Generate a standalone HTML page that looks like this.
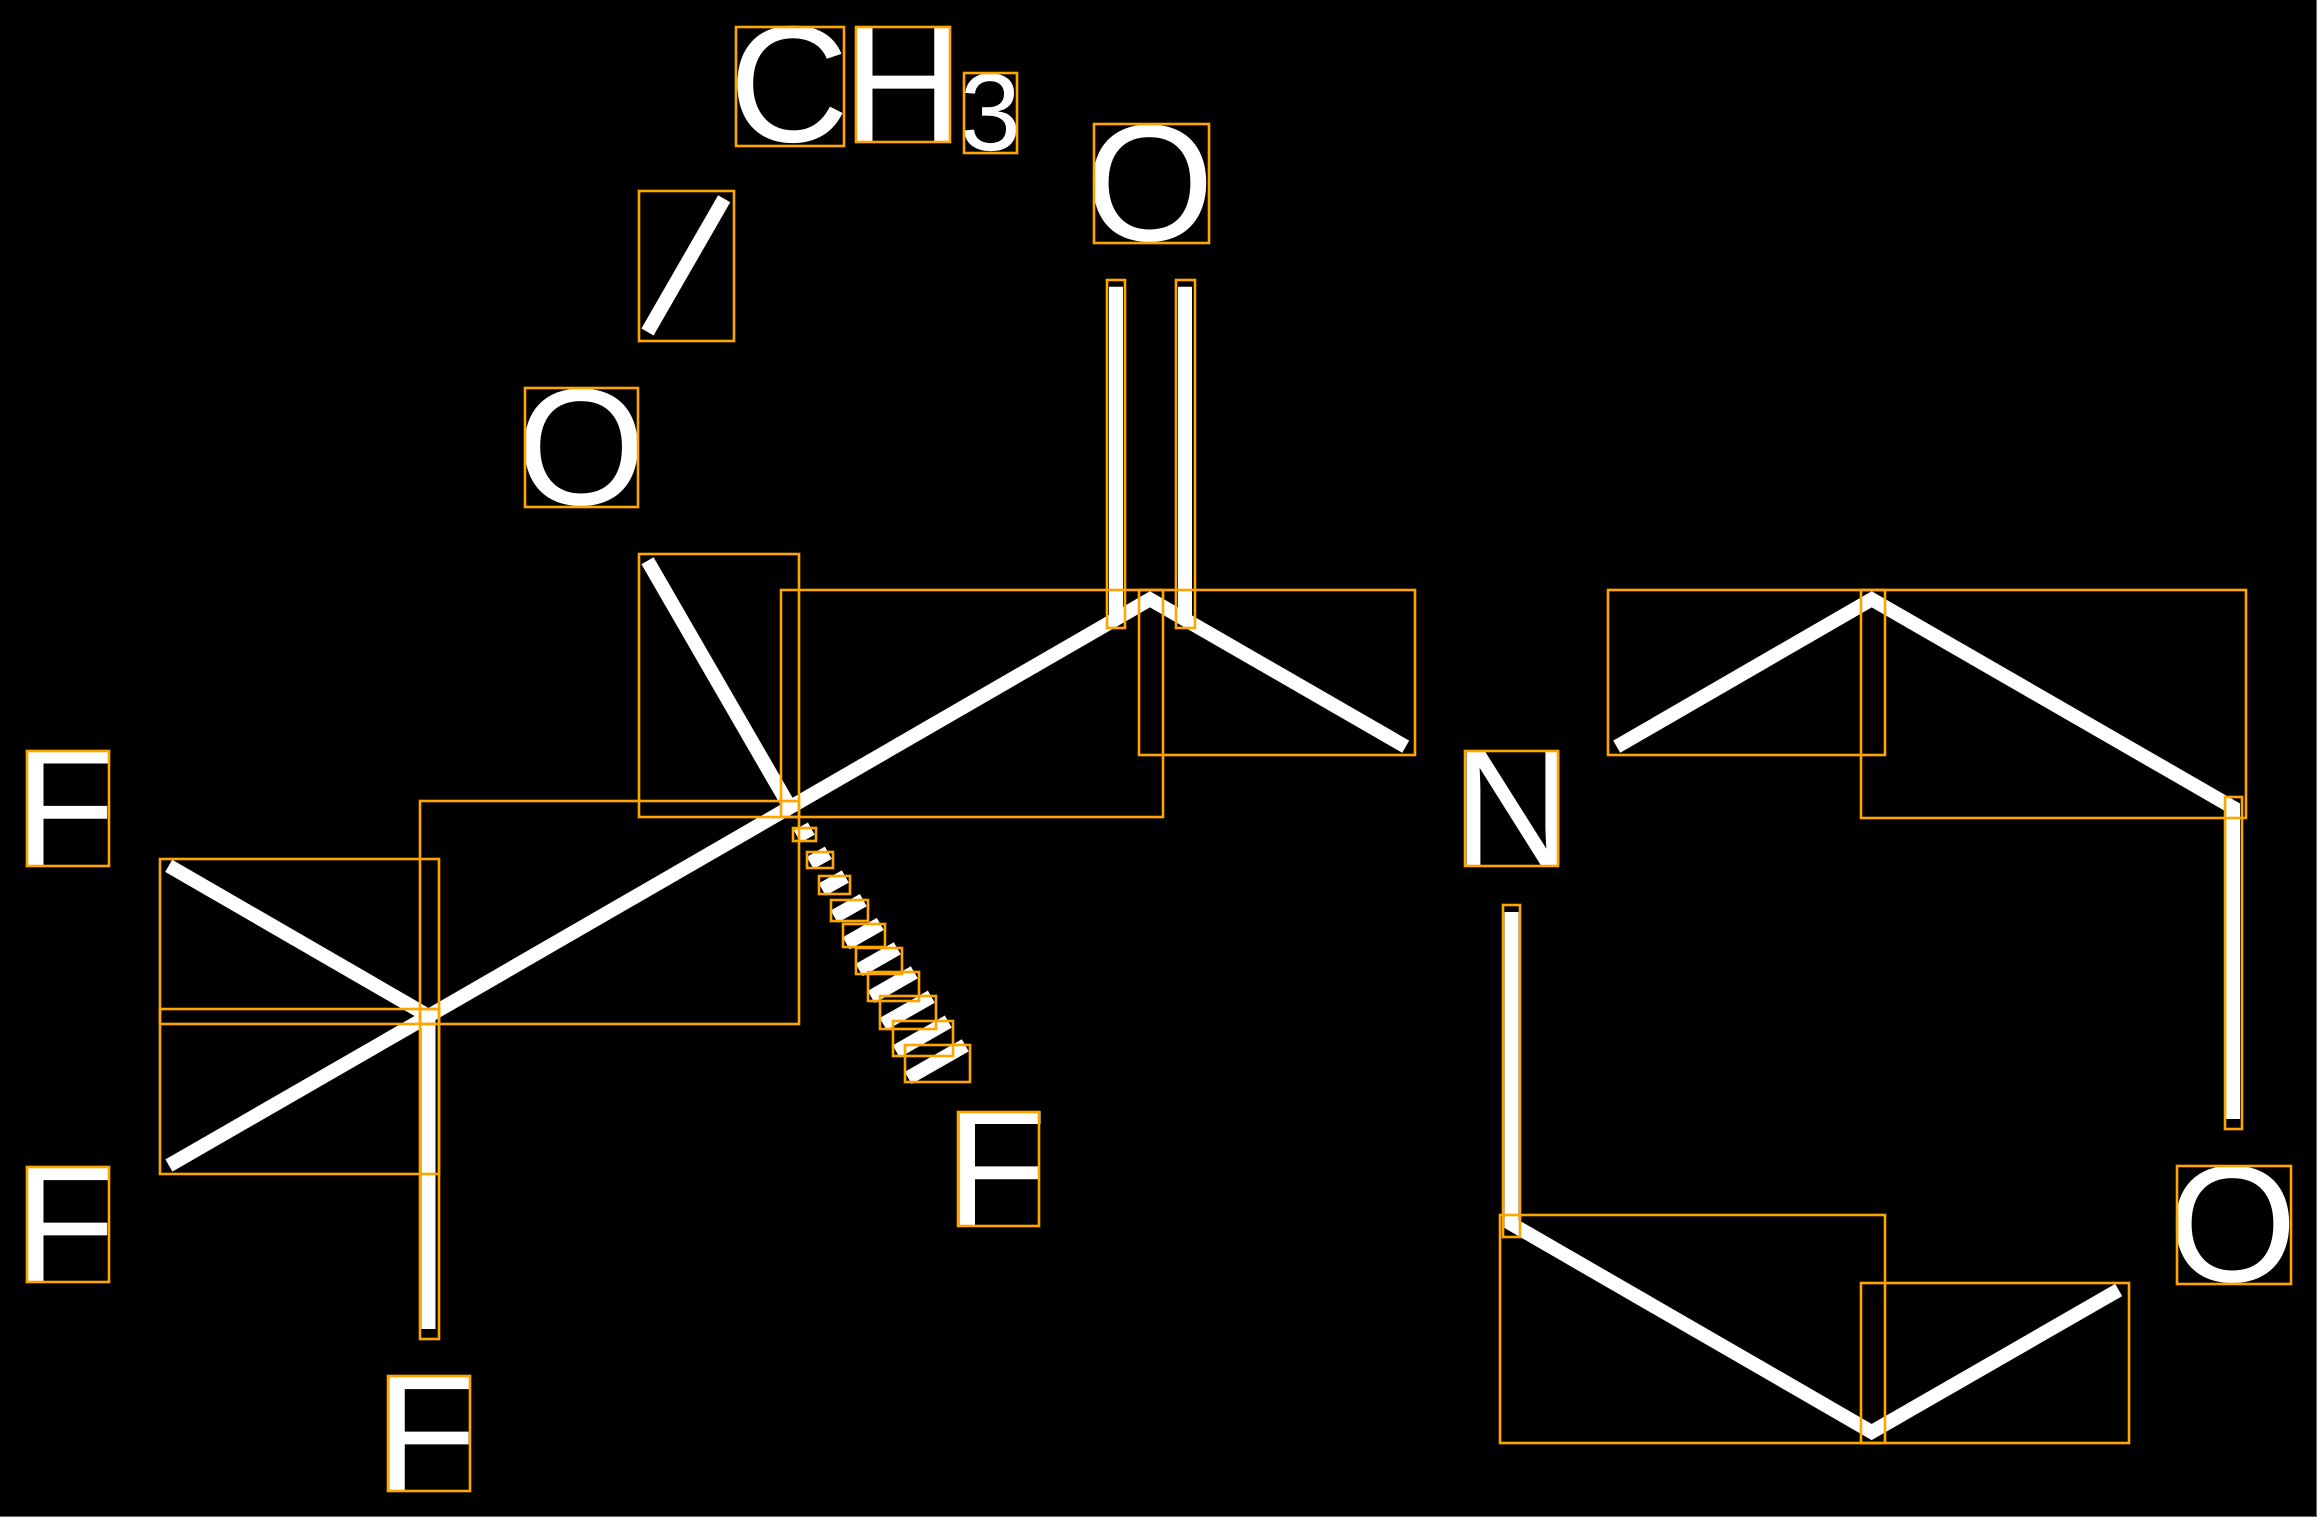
<!DOCTYPE html>
<html>
<head>
<meta charset="utf-8">
<title>Molecule</title>
<style>
html,body{margin:0;padding:0;background:#000;width:2317px;height:1517px;overflow:hidden}
svg{display:block}
text{font-family:"Liberation Sans",sans-serif;fill:#fff;font-size:166px;text-rendering:geometricPrecision}
.b{fill:none;stroke:#fff;stroke-width:14;stroke-linejoin:miter;stroke-miterlimit:10;stroke-linecap:butt}
.r rect{fill:none;stroke:#ffa500;stroke-width:2.6}
</style>
</head>
<body>
<svg width="2317" height="1517" viewBox="0 0 2317 1517" xmlns="http://www.w3.org/2000/svg">
<rect x="0" y="0" width="2317" height="1517" fill="#000"/>
<rect x="2316" y="0" width="1" height="1517" fill="#666"/>
<rect x="0" y="1516" width="2317" height="1" fill="#666"/>

<g class="b">
<polyline points="1405.7,746.7 1150,599.3 790,807.3 428.5,1016 168.7,865.8"/>
<line x1="168.9" y1="1165.5" x2="428.5" y2="1016"/>
<line x1="428.5" y1="1016" x2="428.5" y2="1329"/>
<line x1="647.5" y1="560.8" x2="790" y2="807.3"/>
<line x1="647.5" y1="332" x2="724.2" y2="198.7"/>
<line x1="1116" y1="286.7" x2="1116" y2="620"/>
<line x1="1185" y1="286.7" x2="1185" y2="620"/>
<polyline points="1616.7,746.7 1871.7,599.3 2233,807.5 2233,1119"/>
<polyline points="1511.5,912 1511.5,1224 1871.7,1432 2118.7,1290"/>
<line x1="797.2" y1="836.4" x2="811.3" y2="828.6"/>
<line x1="810.2" y1="862.95" x2="828.3" y2="852.75"/>
<line x1="822.2" y1="889.5" x2="845.3" y2="876.5"/>
<line x1="834.2" y1="916.6" x2="863.3" y2="900.1"/>
<line x1="846.2" y1="943.35" x2="880.3" y2="923.95"/>
<line x1="859.2" y1="970" x2="897.3" y2="948.3"/>
<line x1="871.2" y1="996.95" x2="914.3" y2="972.35"/>
<line x1="883.2" y1="1024.05" x2="931.3" y2="996.65"/>
<line x1="896.2" y1="1051.4" x2="948.3" y2="1021.6"/>
<line x1="908.2" y1="1077.95" x2="965.3" y2="1045.35"/>
</g>

<text x="729 843.4" y="141.5">CH</text>
<text x="959.7" y="150" style="font-size:110px">3</text>
<text x="1085" y="240.4">O</text>
<text x="516.6" y="504.4">O</text>
<text x="2168" y="1281.4">O</text>
<text x="1453" y="865">N</text>
<text x="14.4" y="865">F</text>
<text x="14.4" y="1281.7">F</text>
<text x="375.7" y="1490.7">F</text>
<text x="945.9" y="1225.5">F</text>

<g class="r">
<rect x="736" y="27" width="108" height="119"/>
<rect x="856" y="27" width="94" height="115"/>
<rect x="964" y="73" width="53" height="80"/>
<rect x="1094" y="124" width="115" height="119"/>
<rect x="639" y="191" width="95" height="150"/>
<rect x="525" y="388" width="113" height="119"/>
<rect x="1107" y="280" width="18" height="348"/>
<rect x="1176" y="280" width="19" height="348"/>
<rect x="639" y="554" width="160" height="263"/>
<rect x="781" y="590" width="382" height="227"/>
<rect x="1139" y="590" width="276" height="165"/>
<rect x="420" y="801" width="379" height="223"/>
<rect x="160" y="859" width="279" height="165"/>
<rect x="160" y="1009" width="279" height="165"/>
<rect x="420" y="1009" width="19" height="330"/>
<rect x="27" y="751" width="82" height="115"/>
<rect x="27" y="1167" width="82" height="115"/>
<rect x="388" y="1376" width="82" height="115"/>
<rect x="958" y="1112" width="81" height="114"/>
<rect x="1465" y="751" width="93" height="115"/>
<rect x="1608" y="590" width="277" height="165"/>
<rect x="1861" y="590" width="385" height="228"/>
<rect x="2225" y="797" width="17" height="332"/>
<rect x="2177" y="1166" width="114" height="118"/>
<rect x="1503" y="905" width="17" height="332"/>
<rect x="1500" y="1215" width="385" height="228"/>
<rect x="1861" y="1283" width="268" height="160"/>
<rect x="793" y="828" width="23" height="13"/>
<rect x="807" y="852" width="26" height="16"/>
<rect x="819" y="876" width="31" height="18"/>
<rect x="831" y="900" width="37" height="21"/>
<rect x="843" y="924" width="42" height="23"/>
<rect x="856" y="948" width="46" height="26"/>
<rect x="868" y="972" width="51" height="29"/>
<rect x="880" y="996" width="56" height="33"/>
<rect x="893" y="1021" width="60" height="35"/>
<rect x="905" y="1045" width="65" height="37"/>
</g>
</svg>
</body>
</html>
